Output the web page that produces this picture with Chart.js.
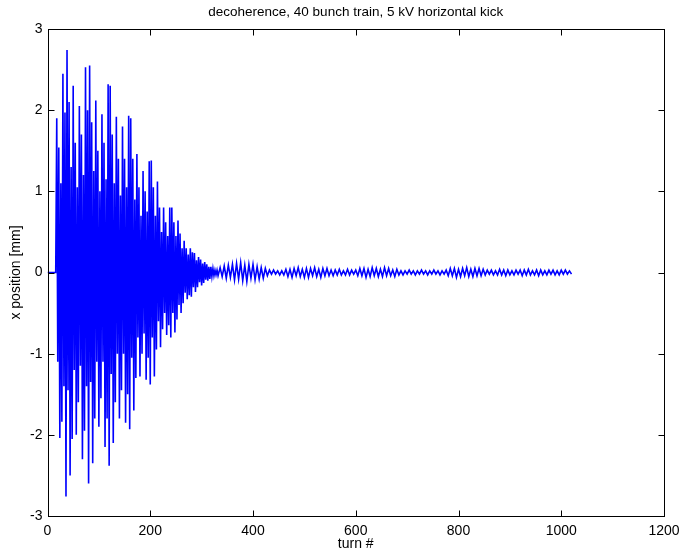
<!DOCTYPE html>
<html>
<head>
<meta charset="utf-8">
<script src="https://cdn.jsdelivr.net/npm/chart.js@4.4.0/dist/chart.umd.min.js"></script>
<style>
  body { margin: 0; background: #fff; }
  canvas { display: block; }
</style>
</head>
<body>
<canvas id="chart" width="679" height="553"></canvas>
<script>
// beam position vs turn
var leadTurns = [0, 16];
var leadValues = [0, 0];

// kicked part: one sample every 2 turns from turn 18
var mainStart = 18, mainStep = 2;
var mainValues = [
  1.90, -1.10, 1.54, -2.04, 1.10, -1.84, 2.45, -1.40, 1.97, -2.76,
  2.74, -1.45, 2.10, -2.50, 1.30, -2.05, 2.30, -1.20, 1.60, -2.00,
  1.05, -1.60, 2.05, -1.15, 1.70, -2.30, 1.20, -1.95, 2.53, -1.40,
  2.00, -2.60, 2.55, -1.35, 1.85, -2.35, 1.25, -1.80, 2.12, -1.10,
  1.50, -1.90, 1.00, -1.55, 1.95, -1.10, 1.60, -2.15, 1.15, -1.80,
  2.32, -2.38, 2.30, -1.25, 1.70, -2.10, 1.10, -1.60, 1.92, -1.00,
  1.40, -1.80, 0.95, -1.45, 1.80, -1.00, 1.40, -1.85, 1.05, -1.50,
  1.93, -1.93, 1.90, -1.05, 1.40, -1.70, 0.90, -1.30, 1.46, -0.80,
  1.05, -1.28, 0.70, -1.00, 1.25, -0.75, 1.00, -1.32, 0.75, -1.05,
  1.37, -1.38, 1.38, -0.80, 1.05, -1.28, 0.70, -0.95, 1.12, -0.60,
  0.80, -0.92, 0.50, -0.70, 0.80, -0.50, 0.62, -0.77, 0.45, -0.65,
  0.80, -0.80, 0.80, -0.50, 0.62, -0.74, 0.45, -0.58, 0.64, -0.40,
  0.48, -0.50, 0.30, -0.38, 0.39, -0.25, 0.30, -0.33, 0.22, -0.28,
  0.30, -0.30, 0.25, -0.18, 0.24, -0.24, 0.15, -0.18, 0.19, -0.12,
  0.16, -0.16, 0.11, -0.13, 0.13, -0.09, 0.10, -0.10, 0.07, -0.08,
  0.07, -0.05, 0.05, -0.04, 0.03, -0.03, 0.03
];

// decohered tail: one sample every 4 turns from turn 332
var tailStart = 332, tailStep = 4;
var tailValues = [
  -0.04, 0.06, -0.05, 0.08, -0.07, 0.09, -0.06, 0.10, -0.09, 0.11,
  -0.08, 0.12, -0.10, 0.09, -0.11, 0.10, -0.07, 0.10, -0.09, 0.07,
  -0.08, 0.06, -0.07, 0.05, -0.04, 0.03, -0.02, 0.03, -0.02, 0.02,
  -0.03, 0.02, -0.03, 0.04, -0.05, 0.04, -0.06, 0.05, -0.04, 0.06,
  -0.05, 0.04, -0.06, 0.05, -0.06, 0.05, -0.04, 0.06, -0.05, 0.04,
  -0.06, 0.05, -0.04, 0.05, -0.04, 0.03, -0.04, 0.03, -0.03, 0.04,
  -0.03, 0.02, -0.03, 0.04, -0.03, 0.03, -0.02, 0.03, -0.04, 0.05,
  -0.04, 0.05, -0.06, 0.04, -0.05, 0.06, -0.04, 0.05, -0.05, 0.04,
  -0.05, 0.06, -0.04, 0.05, -0.04, 0.03, -0.05, 0.04, -0.03, 0.02,
  -0.03, 0.02, -0.02, 0.03, -0.02, 0.02, -0.03, 0.02, -0.02, 0.03,
  -0.02, 0.02, -0.03, 0.02, -0.02, 0.03, -0.02, 0.02, -0.03, 0.02,
  -0.02, 0.03, -0.04, 0.05, -0.04, 0.05, -0.06, 0.04, -0.05, 0.05,
  -0.04, 0.06, -0.05, 0.04, -0.05, 0.05, -0.04, 0.05, -0.04, 0.04,
  -0.03, 0.03, -0.02, 0.03, -0.03, 0.02, -0.03, 0.04, -0.03, 0.03,
  -0.04, 0.03, -0.03, 0.02, -0.03, 0.03, -0.02, 0.03, -0.04, 0.03,
  -0.03, 0.04, -0.03, 0.02, -0.03, 0.03, -0.04, 0.03, -0.03, 0.02,
  -0.03, 0.03, -0.02, 0.03, -0.03, 0.02, -0.03, 0.03, -0.02, 0.03,
  -0.02, 0.02, -0.02
];

var titleText = 'decoherence, 40 bunch train, 5 kV horizontal kick';
var xTitle = 'turn #';
var yTitle = 'x position [mm]';

var points = [];
leadTurns.forEach(function (t, i) { points.push({ x: t, y: leadValues[i] }); });
mainValues.forEach(function (v, i) { points.push({ x: mainStart + i * mainStep, y: v }); });
tailValues.forEach(function (v, i) { points.push({ x: tailStart + i * tailStep, y: v }); });

var font = 'Liberation Sans, Arial, sans-serif';

// matlab style box, inward ticks and labels
var frame = {
  id: 'frame',
  afterDraw: function (chart) {
    var ctx = chart.ctx, a = chart.chartArea;
    var xs = chart.scales.x, ys = chart.scales.y;
    ctx.save();
    ctx.strokeStyle = '#000';
    ctx.lineWidth = 1;
    var l = Math.round(a.left) + 0.5, r = Math.round(a.right) + 0.5;
    var t = Math.round(a.top) + 0.5, b = Math.round(a.bottom) + 0.5;
    ctx.strokeRect(l, t, r - l, b - t);
    ctx.beginPath();
    xs.ticks.forEach(function (tk) {
      var px = Math.round(xs.getPixelForValue(tk.value)) + 0.5;
      ctx.moveTo(px, b); ctx.lineTo(px, b - 6);
      ctx.moveTo(px, t); ctx.lineTo(px, t + 6);
    });
    ys.ticks.forEach(function (tk) {
      var py = Math.round(ys.getPixelForValue(tk.value)) + 0.5;
      ctx.moveTo(l, py); ctx.lineTo(l + 6, py);
      ctx.moveTo(r, py); ctx.lineTo(r - 6, py);
    });
    ctx.stroke();

    ctx.fillStyle = '#000';
    ctx.textAlign = 'center';
    ctx.textBaseline = 'middle';
    ctx.font = '13.5px ' + font;
    ctx.fillText(titleText, (a.left + a.right) / 2, 12);
    ctx.font = '14px ' + font;
    ctx.fillText(xTitle, (a.left + a.right) / 2, 544);
    ctx.translate(16, (a.top + a.bottom) / 2);
    ctx.rotate(-Math.PI / 2);
    ctx.fillText(yTitle, 0, 0);
    ctx.restore();
  }
};

var config = {
  type: 'line',
  data: {
    datasets: [{
      data: points,
      borderColor: 'rgb(0, 0, 255)',
      borderWidth: 1.6,
      pointRadius: 0,
      tension: 0,
      fill: false
    }]
  },
  options: {
    responsive: false,
    animation: false,
    devicePixelRatio: 1,
    layout: {
      padding: { top: 29, right: 15, left: 0, bottom: 0 }
    },
    plugins: {
      legend: { display: false },
      tooltip: { enabled: false },
      title: { display: false }
    },
    scales: {
      x: {
        type: 'linear',
        min: 0,
        max: 1200,
        afterFit: function (s) {
          s.height = 37;
          s.paddingLeft = 0;
          s.paddingRight = 0;
        },
        grid: { display: false, drawTicks: false },
        border: { display: false },
        ticks: {
          stepSize: 200,
          maxRotation: 0,
          padding: 7,
          color: '#000',
          font: { family: font, size: 14 },
          callback: function (v) { return String(v); }
        }
      },
      y: {
        min: -3,
        max: 3,
        afterFit: function (s) {
          s.width = 47.5;
          s.paddingTop = 0;
          s.paddingBottom = 0;
        },
        grid: { display: false, drawTicks: false },
        border: { display: false },
        ticks: {
          stepSize: 1,
          padding: 5,
          color: '#000',
          font: { family: font, size: 14 },
          callback: function (v) { return String(v); }
        }
      }
    }
  },
  plugins: [frame]
};

window.onload = function () {
  var ctx = document.getElementById('chart').getContext('2d');
  window.myChart = new Chart(ctx, config);
};
</script>
</body>
</html>
